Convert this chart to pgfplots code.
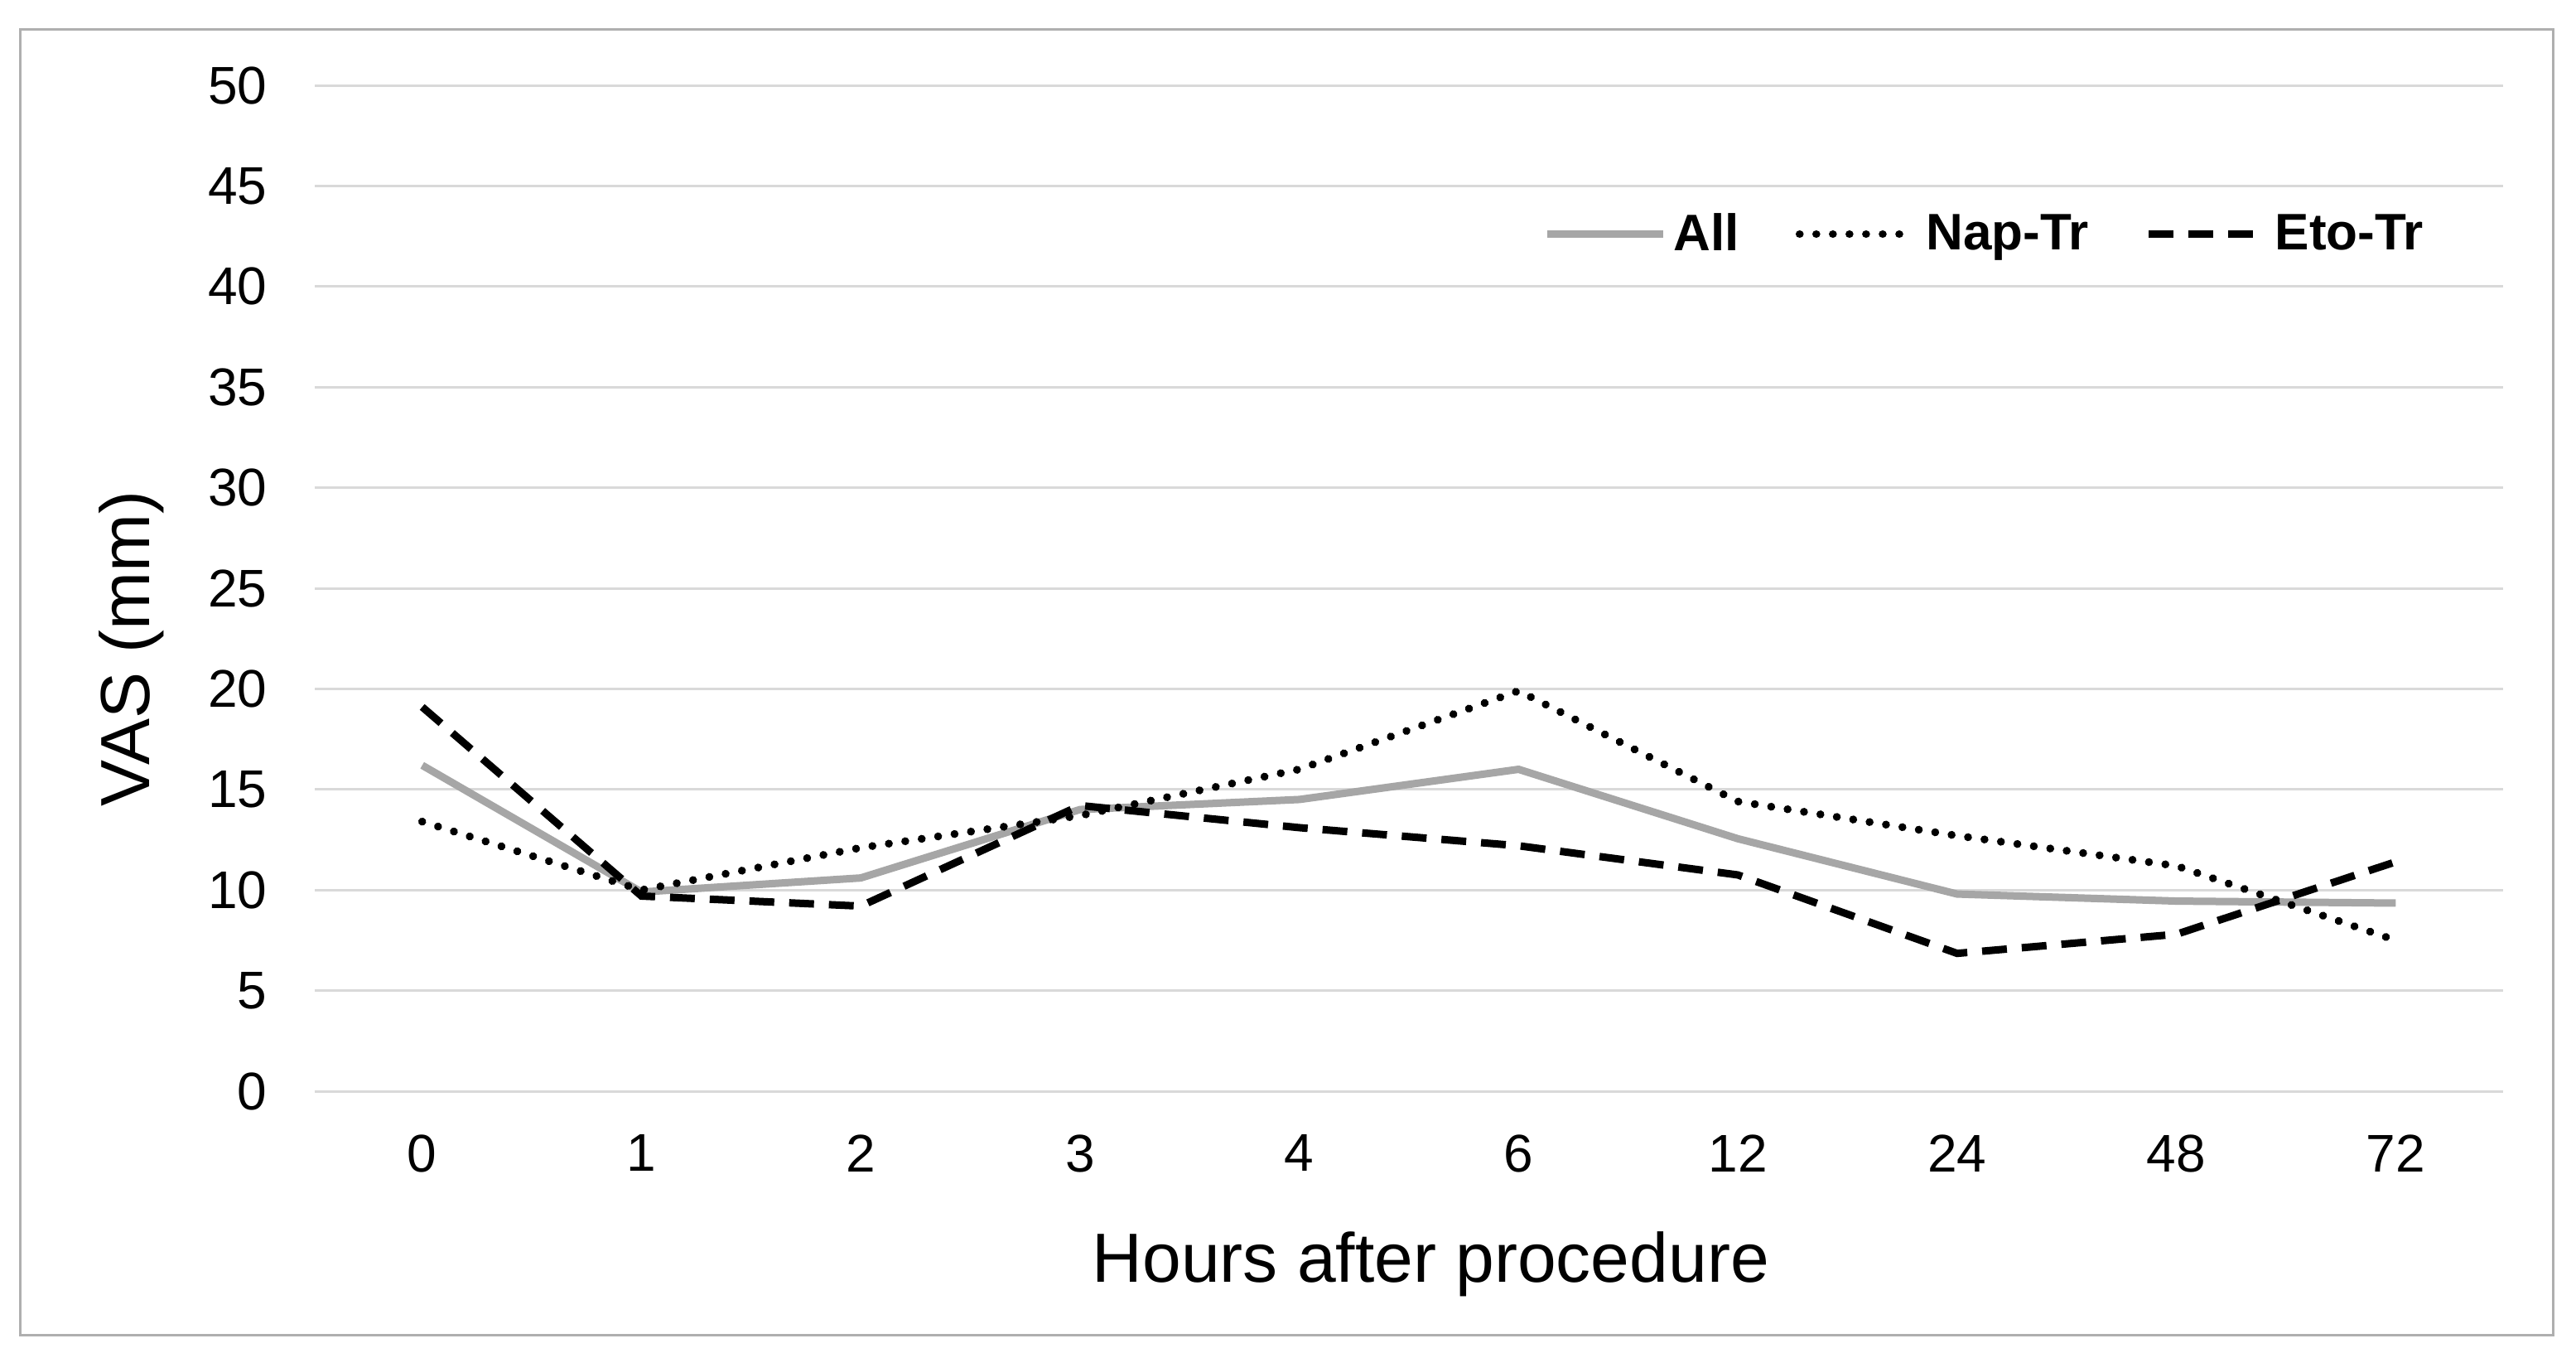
\documentclass[border=0pt]{standalone}
\usepackage{fontspec}
\setmainfont{Liberation Sans}
\usepackage{pgfplots}
\pgfplotsset{compat=1.18}
\definecolor{gridc}{RGB}{217,217,217}
\definecolor{allc}{RGB}{166,166,166}
\definecolor{borderc}{RGB}{175,175,175}
\begin{document}
\begin{tikzpicture}
\useasboundingbox (0,0) rectangle (777.5pt,408pt);
\fill[white] (0,0) rectangle (777.5pt,408pt);
\draw[borderc, line width=0.75pt] (6pt,5.25pt) rectangle (770.5pt,399pt);
\begin{axis}[
 at={(95pt,78.75pt)}, anchor=south west, scale only axis,
 width=660.5pt, height=303.5pt,
 xmin=-0.49, xmax=9.49, ymin=0, ymax=50,
 xtick={0,...,9}, xticklabels={0,1,2,3,4,6,12,24,48,72},
 ytick={0,5,...,50},
 axis line style={draw=none},
 major tick length=0pt,
 ymajorgrids, grid style={gridc, line width=0.75pt},
 tick label style={font=\fontsize{16}{19}\selectfont, black},
 /pgf/number format/assume math mode=true,
 xticklabel style={inner sep=0pt, anchor=north, yshift=-13pt},
 yticklabel style={inner sep=0pt, anchor=east, xshift=-14.25pt},
 xlabel={Hours after procedure}, ylabel={VAS (mm)},
 label style={font=\fontsize{21}{25}\selectfont},
 xlabel style={at={(axis description cs:0.510,0)}, anchor=base, yshift=-57.5pt, inner sep=0pt},
 ylabel style={at={(axis description cs:-0.0757,0.44)}, anchor=base, inner sep=0pt},
 legend columns=3,
 legend style={draw=none, fill=none, at={(0.967,0.852)}, anchor=east,
   font=\bfseries\fontsize{15.5}{18}\selectfont, inner sep=0pt,
   /tikz/every even column/.append style={column sep=15pt}},
 legend image code/.code={\draw[#1] (0pt,0pt) -- (35pt,0pt);},
 clip=false,
]
\addplot[allc, line width=2.25pt, line join=round] coordinates {
 (0,16.2) (1,9.9) (2,10.6) (3,14.0) (4,14.5) (5,16.0) (6,12.55) (7,9.8) (8,9.45) (9,9.35)};
\addlegendentry{All}
\addplot[black, line width=2.4pt, line cap=round, dash pattern=on 0.01pt off 5pt] coordinates {
 (0,13.4) (1,10.0) (2,12.1) (3,13.7) (4,16.0) (5,19.9) (6,14.4) (7,12.7) (8,11.2) (9,7.5)};
\addlegendentry{Nap-Tr}
\addplot[black, line width=2.25pt, dash pattern=on 7.5pt off 4.5pt] coordinates {
 (0,19.1) (1,9.7) (2,9.2) (3,14.2) (4,13.1) (5,12.2) (6,10.75) (7,6.85) (8,7.8) (9,11.4)};
\addlegendentry{Eto-Tr}
\end{axis}
\end{tikzpicture}
\end{document}
